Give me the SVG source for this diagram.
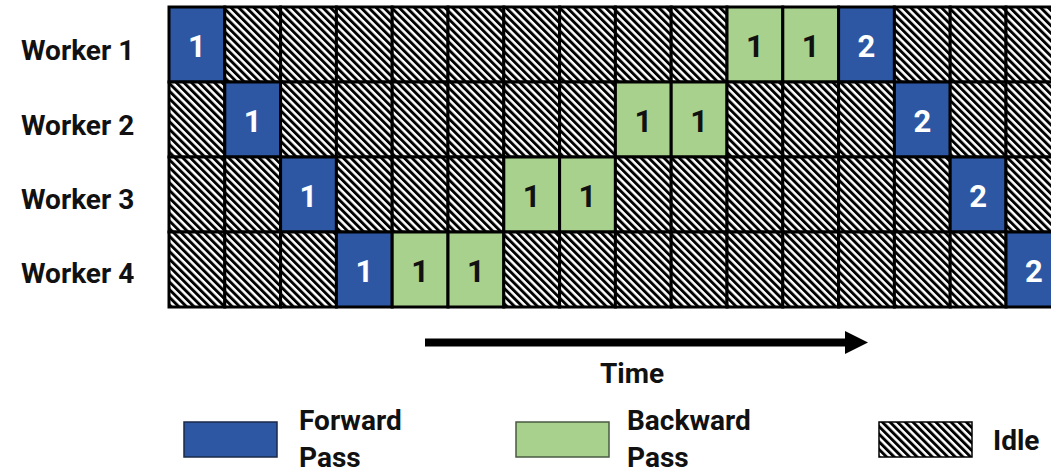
<svg xmlns="http://www.w3.org/2000/svg" width="1051" height="472" viewBox="0 0 1051 472">
<style>
text{font-family:Roboto,"Liberation Sans",sans-serif;font-weight:700;font-size:28px;fill:#111}
.d{font-size:31px;text-anchor:middle}
.dw{fill:#fff}
.c{stroke:#000;stroke-width:3}
.f{fill:#2D57A3}
.b{fill:#A9D18E}
.i{fill:url(#hatch)}
</style>
<defs>
<pattern id="hatch" patternUnits="userSpaceOnUse" width="5.4" height="20" patternTransform="rotate(-45)">
<rect width="5.4" height="20" fill="#fff"/>
<rect width="2.9" height="20" fill="#000"/>
</pattern>
</defs>
<rect width="1051" height="472" fill="#fff"/>

<g id="labels">
<text x="21" y="60">Worker 1</text>
<text x="21" y="135">Worker 2</text>
<text x="21" y="209">Worker 3</text>
<text x="21" y="283">Worker 4</text>
</g>

<g id="worker1">
<rect class="c f" x="169" y="7" width="55.8" height="75"/>
<rect class="c i" x="224.8" y="7" width="55.8" height="75"/>
<rect class="c i" x="280.6" y="7" width="55.8" height="75"/>
<rect class="c i" x="336.4" y="7" width="55.8" height="75"/>
<rect class="c i" x="392.2" y="7" width="55.8" height="75"/>
<rect class="c i" x="448" y="7" width="55.8" height="75"/>
<rect class="c i" x="503.8" y="7" width="55.8" height="75"/>
<rect class="c i" x="559.6" y="7" width="55.8" height="75"/>
<rect class="c i" x="615.4" y="7" width="55.8" height="75"/>
<rect class="c i" x="671.2" y="7" width="55.8" height="75"/>
<rect class="c b" x="727" y="7" width="55.8" height="75"/>
<rect class="c b" x="782.8" y="7" width="55.8" height="75"/>
<rect class="c f" x="838.6" y="7" width="55.8" height="75"/>
<rect class="c i" x="894.4" y="7" width="55.8" height="75"/>
<rect class="c i" x="950.2" y="7" width="55.8" height="75"/>
<rect class="c i" x="1006" y="7" width="55.8" height="75"/>
<text class="d dw" x="196.9" y="57">1</text>
<text class="d" x="754.9" y="57">1</text>
<text class="d" x="810.7" y="57">1</text>
<text class="d dw" x="866.5" y="57">2</text>
</g>

<g id="worker2">
<rect class="c i" x="169" y="82" width="55.8" height="75"/>
<rect class="c f" x="224.8" y="82" width="55.8" height="75"/>
<rect class="c i" x="280.6" y="82" width="55.8" height="75"/>
<rect class="c i" x="336.4" y="82" width="55.8" height="75"/>
<rect class="c i" x="392.2" y="82" width="55.8" height="75"/>
<rect class="c i" x="448" y="82" width="55.8" height="75"/>
<rect class="c i" x="503.8" y="82" width="55.8" height="75"/>
<rect class="c i" x="559.6" y="82" width="55.8" height="75"/>
<rect class="c b" x="615.4" y="82" width="55.8" height="75"/>
<rect class="c b" x="671.2" y="82" width="55.8" height="75"/>
<rect class="c i" x="727" y="82" width="55.8" height="75"/>
<rect class="c i" x="782.8" y="82" width="55.8" height="75"/>
<rect class="c i" x="838.6" y="82" width="55.8" height="75"/>
<rect class="c f" x="894.4" y="82" width="55.8" height="75"/>
<rect class="c i" x="950.2" y="82" width="55.8" height="75"/>
<rect class="c i" x="1006" y="82" width="55.8" height="75"/>
<text class="d dw" x="252.7" y="132">1</text>
<text class="d" x="643.3" y="132">1</text>
<text class="d" x="699.1" y="132">1</text>
<text class="d dw" x="922.3" y="132">2</text>
</g>

<g id="worker3">
<rect class="c i" x="169" y="157" width="55.8" height="75"/>
<rect class="c i" x="224.8" y="157" width="55.8" height="75"/>
<rect class="c f" x="280.6" y="157" width="55.8" height="75"/>
<rect class="c i" x="336.4" y="157" width="55.8" height="75"/>
<rect class="c i" x="392.2" y="157" width="55.8" height="75"/>
<rect class="c i" x="448" y="157" width="55.8" height="75"/>
<rect class="c b" x="503.8" y="157" width="55.8" height="75"/>
<rect class="c b" x="559.6" y="157" width="55.8" height="75"/>
<rect class="c i" x="615.4" y="157" width="55.8" height="75"/>
<rect class="c i" x="671.2" y="157" width="55.8" height="75"/>
<rect class="c i" x="727" y="157" width="55.8" height="75"/>
<rect class="c i" x="782.8" y="157" width="55.8" height="75"/>
<rect class="c i" x="838.6" y="157" width="55.8" height="75"/>
<rect class="c i" x="894.4" y="157" width="55.8" height="75"/>
<rect class="c f" x="950.2" y="157" width="55.8" height="75"/>
<rect class="c i" x="1006" y="157" width="55.8" height="75"/>
<text class="d dw" x="308.5" y="207">1</text>
<text class="d" x="531.7" y="207">1</text>
<text class="d" x="587.5" y="207">1</text>
<text class="d dw" x="978.1" y="207">2</text>
</g>

<g id="worker4">
<rect class="c i" x="169" y="232" width="55.8" height="75"/>
<rect class="c i" x="224.8" y="232" width="55.8" height="75"/>
<rect class="c i" x="280.6" y="232" width="55.8" height="75"/>
<rect class="c f" x="336.4" y="232" width="55.8" height="75"/>
<rect class="c b" x="392.2" y="232" width="55.8" height="75"/>
<rect class="c b" x="448" y="232" width="55.8" height="75"/>
<rect class="c i" x="503.8" y="232" width="55.8" height="75"/>
<rect class="c i" x="559.6" y="232" width="55.8" height="75"/>
<rect class="c i" x="615.4" y="232" width="55.8" height="75"/>
<rect class="c i" x="671.2" y="232" width="55.8" height="75"/>
<rect class="c i" x="727" y="232" width="55.8" height="75"/>
<rect class="c i" x="782.8" y="232" width="55.8" height="75"/>
<rect class="c i" x="838.6" y="232" width="55.8" height="75"/>
<rect class="c i" x="894.4" y="232" width="55.8" height="75"/>
<rect class="c i" x="950.2" y="232" width="55.8" height="75"/>
<rect class="c f" x="1006" y="232" width="55.8" height="75"/>
<text class="d dw" x="364.3" y="282">1</text>
<text class="d" x="420.1" y="282">1</text>
<text class="d" x="475.9" y="282">1</text>
<text class="d dw" x="1033.9" y="282">2</text>
</g>

<g id="connectors">
<line x1="425" y1="342.5" x2="848" y2="342.5" stroke="#000" stroke-width="8"/>
<polygon points="845,331 868,342.5 845,354" fill="#000"/>
</g>
<g id="time-label">
<text x="632" y="383" text-anchor="middle">Time</text>
</g>

<g id="legend-forward">
<rect x="184" y="422" width="93" height="35" fill="#2D57A3" stroke="#1a2a4a" stroke-width="1.5"/>
<text x="299" y="430">Forward</text>
<text x="299" y="467">Pass</text>
</g>
<g id="legend-backward">
<rect x="516" y="422" width="93" height="35" fill="#A9D18E" stroke="#4a5a42" stroke-width="1.5"/>
<text x="627" y="430">Backward</text>
<text x="627" y="467">Pass</text>
</g>
<g id="legend-idle">
<rect x="879" y="422" width="93" height="35" fill="url(#hatch)" stroke="#000" stroke-width="1.5"/>
<text x="993" y="450">Idle</text>
</g>
</svg>
